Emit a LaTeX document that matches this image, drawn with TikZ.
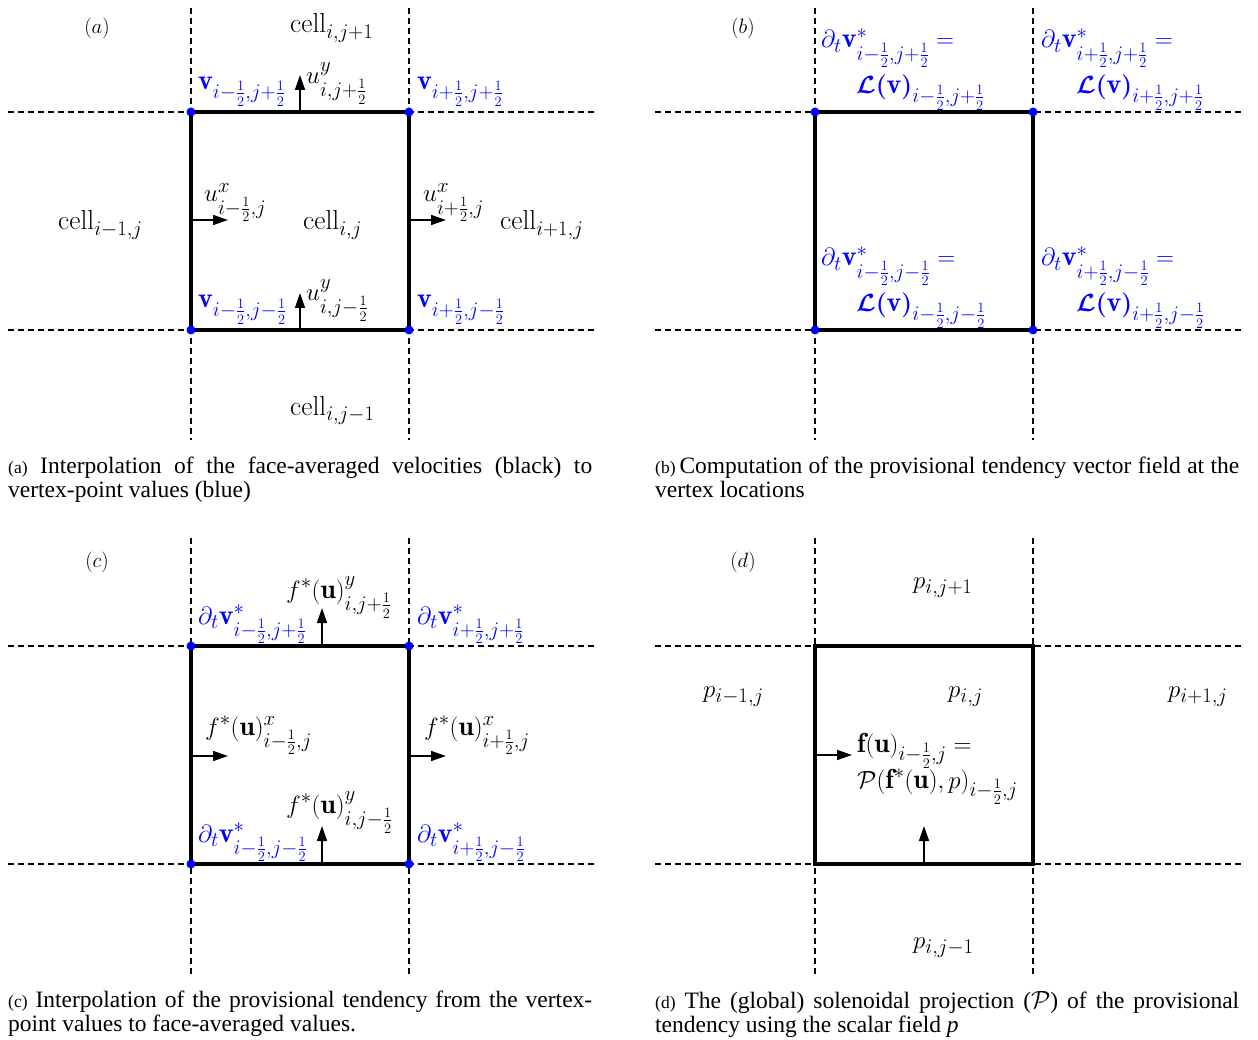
\documentclass[tikz,border=0pt]{standalone}
\usepackage{amsmath}
\usepackage{fontspec}
\newfontfamily\capfont{Liberation Serif}
\usetikzlibrary{arrows.meta}
\tikzset{
  gridline/.style={line width=1.3pt, dash pattern=on 6pt off 4pt},
  cellbox/.style={line width=3.5pt},
  vdot/.style={circle, fill=blue, inner sep=0pt, minimum size=9pt},
  flux/.style={line width=1.5pt, -{Triangle[length=15pt,width=10pt]}},
  lab/.style={font=\fontsize{27.5}{32}\selectfont, inner sep=0pt, anchor=base west},
  blab/.style={font=\fontsize{28}{32}\selectfont, inner sep=0pt, anchor=base west, text=blue},
  tag/.style={font=\fontsize{22}{26}\selectfont, inner sep=0pt},
  capt/.style={font=\capfont\fontsize{23.5}{24}\selectfont, inner sep=0pt, anchor=north west, text width=584pt, align=justify},
}
\newcommand{\hf}{\frac{1}{2}}
\newcommand{\capsmall}{\fontsize{17.5}{20}\selectfont}
\begin{document}
\begin{tikzpicture}[x=1pt, y=-1pt]
\useasboundingbox (0,0) rectangle (1258,1040);

% ---------------- panel (a)
\coordinate (aH1w) at (8,112);  \coordinate (aH1e) at (595,112);
\coordinate (aH2w) at (8,330);  \coordinate (aH2e) at (595,330);
\coordinate (aV1n) at (191,8);  \coordinate (aV1s) at (191,440);
\coordinate (aV2n) at (409,8);  \coordinate (aV2s) at (409,440);
\draw[gridline] (aH1w) -- (aH1e); \draw[gridline] (aH2w) -- (aH2e);
\draw[gridline] (aV1n) -- (aV1s); \draw[gridline] (aV2n) -- (aV2s);
\coordinate (aTL) at (191,112); \coordinate (aTR) at (409,112);
\coordinate (aBL) at (191,330); \coordinate (aBR) at (409,330);
\draw[cellbox] (aTL) -- (aTR) -- (aBR) -- (aBL) -- cycle;
\node[vdot] (aTLd) at (aTL) {}; \node[vdot] (aTRd) at (aTR) {};
\node[vdot] (aBLd) at (aBL) {}; \node[vdot] (aBRd) at (aBR) {};
\coordinate (aN0) at (300,112); \coordinate (aN1) at (300,75);
\coordinate (aS0) at (300,330); \coordinate (aS1) at (300,293);
\coordinate (aW0) at (191,220); \coordinate (aW1) at (228,220);
\coordinate (aE0) at (409,220); \coordinate (aE1) at (446,220);
\draw[flux] (aN0) -- (aN1); \draw[flux] (aS0) -- (aS1);
\draw[flux] (aW0) -- (aW1); \draw[flux] (aE0) -- (aE1);
\node[tag] (atag) at (97,28) {$(a)$};
\node[lab] (ac1) at (290,33) {$\mathrm{cell}_{i,j+1}$};
\node[lab] (ac2) at (58,230) {$\mathrm{cell}_{i-1,j}$};
\node[lab] (ac3) at (303,230) {$\mathrm{cell}_{i,j}$};
\node[lab] (ac4) at (500,230) {$\mathrm{cell}_{i+1,j}$};
\node[lab] (ac5) at (290,415) {$\mathrm{cell}_{i,j-1}$};
\node[lab] (au1) at (306,84) {$u^{y}_{i,j+\hf}$};
\node[lab] (au2) at (204,202) {$u^{x}_{i-\hf,j}$};
\node[lab] (au3) at (423,202) {$u^{x}_{i+\hf,j}$};
\node[lab] (au4) at (306,301) {$u^{y}_{i,j-\hf}$};
\node[blab] (av1) at (198,90) {$\mathbf{v}_{i-\hf,j+\hf}$};
\node[blab] (av2) at (417,90) {$\mathbf{v}_{i+\hf,j+\hf}$};
\node[blab] (av3) at (198,308) {$\mathbf{v}_{i-\hf,j-\hf}$};
\node[blab] (av4) at (417,308) {$\mathbf{v}_{i+\hf,j-\hf}$};

% ---------------- panel (b)
\coordinate (bH1w) at (655,112);  \coordinate (bH1e) at (1242,112);
\coordinate (bH2w) at (655,330);  \coordinate (bH2e) at (1242,330);
\coordinate (bV1n) at (815,8);  \coordinate (bV1s) at (815,440);
\coordinate (bV2n) at (1033,8);  \coordinate (bV2s) at (1033,440);
\draw[gridline] (bH1w) -- (bH1e); \draw[gridline] (bH2w) -- (bH2e);
\draw[gridline] (bV1n) -- (bV1s); \draw[gridline] (bV2n) -- (bV2s);
\coordinate (bTL) at (815,112); \coordinate (bTR) at (1033,112);
\coordinate (bBL) at (815,330); \coordinate (bBR) at (1033,330);
\draw[cellbox] (bTL) -- (bTR) -- (bBR) -- (bBL) -- cycle;
\node[vdot] (bTLd) at (bTL) {}; \node[vdot] (bTRd) at (bTR) {};
\node[vdot] (bBLd) at (bBL) {}; \node[vdot] (bBRd) at (bBR) {};
\node[tag] (btag) at (743,28) {$(b)$};
\node[blab] (bl1) at (821,48) {$\partial_t\mathbf{v}^{*}_{i-\hf,j+\hf} =$};
\node[blab] (bl2) at (856,94) {$\boldsymbol{\mathcal{L}}\boldsymbol{(}\mathbf{v}\boldsymbol{)}_{i-\hf,j+\hf}$};
\node[blab] (bl3) at (1041,48) {$\partial_t\mathbf{v}^{*}_{i+\hf,j+\hf} =$};
\node[blab] (bl4) at (1076,94) {$\boldsymbol{\mathcal{L}}\boldsymbol{(}\mathbf{v}\boldsymbol{)}_{i+\hf,j+\hf}$};
\node[blab] (bl5) at (821,266) {$\partial_t\mathbf{v}^{*}_{i-\hf,j-\hf} =$};
\node[blab] (bl6) at (856,312) {$\boldsymbol{\mathcal{L}}\boldsymbol{(}\mathbf{v}\boldsymbol{)}_{i-\hf,j-\hf}$};
\node[blab] (bl7) at (1041,266) {$\partial_t\mathbf{v}^{*}_{i+\hf,j-\hf} =$};
\node[blab] (bl8) at (1076,312) {$\boldsymbol{\mathcal{L}}\boldsymbol{(}\mathbf{v}\boldsymbol{)}_{i+\hf,j-\hf}$};

% ---------------- panel (c)
\coordinate (cH1w) at (8,646);  \coordinate (cH1e) at (595,646);
\coordinate (cH2w) at (8,864);  \coordinate (cH2e) at (595,864);
\coordinate (cV1n) at (191,538);  \coordinate (cV1s) at (191,975);
\coordinate (cV2n) at (409,538);  \coordinate (cV2s) at (409,975);
\draw[gridline] (cH1w) -- (cH1e); \draw[gridline] (cH2w) -- (cH2e);
\draw[gridline] (cV1n) -- (cV1s); \draw[gridline] (cV2n) -- (cV2s);
\coordinate (cTL) at (191,646); \coordinate (cTR) at (409,646);
\coordinate (cBL) at (191,864); \coordinate (cBR) at (409,864);
\draw[cellbox] (cTL) -- (cTR) -- (cBR) -- (cBL) -- cycle;
\node[vdot] (cTLd) at (cTL) {}; \node[vdot] (cTRd) at (cTR) {};
\node[vdot] (cBLd) at (cBL) {}; \node[vdot] (cBRd) at (cBR) {};
\coordinate (cN0) at (322,646); \coordinate (cN1) at (322,608);
\coordinate (cS0) at (322,864); \coordinate (cS1) at (322,826);
\coordinate (cW0) at (191,756); \coordinate (cW1) at (228,756);
\coordinate (cE0) at (409,756); \coordinate (cE1) at (446,756);
\draw[flux] (cN0) -- (cN1); \draw[flux] (cS0) -- (cS1);
\draw[flux] (cW0) -- (cW1); \draw[flux] (cE0) -- (cE1);
\node[tag] (ctag) at (97,562) {$(c)$};
\node[lab] (cf1) at (286,598) {$f^{*}(\mathbf{u})^{y}_{i,j+\hf}$};
\node[lab] (cf2) at (205,735) {$f^{*}(\mathbf{u})^{x}_{i-\hf,j}$};
\node[lab] (cf3) at (424,735) {$f^{*}(\mathbf{u})^{x}_{i+\hf,j}$};
\node[lab] (cf4) at (286,813) {$f^{*}(\mathbf{u})^{y}_{i,j-\hf}$};
\node[blab] (cv1) at (198,624) {$\partial_t\mathbf{v}^{*}_{i-\hf,j+\hf}$};
\node[blab] (cv2) at (417,624) {$\partial_t\mathbf{v}^{*}_{i+\hf,j+\hf}$};
\node[blab] (cv3) at (198,842) {$\partial_t\mathbf{v}^{*}_{i-\hf,j-\hf}$};
\node[blab] (cv4) at (417,842) {$\partial_t\mathbf{v}^{*}_{i+\hf,j-\hf}$};

% ---------------- panel (d)
\coordinate (dH1w) at (655,646);  \coordinate (dH1e) at (1242,646);
\coordinate (dH2w) at (655,864);  \coordinate (dH2e) at (1242,864);
\coordinate (dV1n) at (815,538);  \coordinate (dV1s) at (815,975);
\coordinate (dV2n) at (1033,538);  \coordinate (dV2s) at (1033,975);
\draw[gridline] (dH1w) -- (dH1e); \draw[gridline] (dH2w) -- (dH2e);
\draw[gridline] (dV1n) -- (dV1s); \draw[gridline] (dV2n) -- (dV2s);
\coordinate (dTL) at (815,646); \coordinate (dTR) at (1033,646);
\coordinate (dBL) at (815,864); \coordinate (dBR) at (1033,864);
\draw[cellbox] (dTL) -- (dTR) -- (dBR) -- (dBL) -- cycle;
\coordinate (dW0) at (815,755); \coordinate (dW1) at (852,755);
\coordinate (dS0) at (924,864); \coordinate (dS1) at (924,826);
\draw[flux] (dW0) -- (dW1); \draw[flux] (dS0) -- (dS1);
\node[tag] (dtag) at (743,562) {$(d)$};
\node[lab] (dp1) at (913,588) {$p_{i,j+1}$};
\node[lab] (dp2) at (703,697) {$p_{i-1,j}$};
\node[lab] (dp3) at (948,697) {$p_{i,j}$};
\node[lab] (dp4) at (1168,697) {$p_{i+1,j}$};
\node[lab] (dp5) at (913,948) {$p_{i,j-1}$};
\node[lab] (df1) at (857,752) {$\mathbf{f}(\mathbf{u})_{i-\hf,j} =$};
\node[lab] (df2) at (857,788) {$\mathcal{P}(\mathbf{f}^{*}(\mathbf{u}),p)_{i-\hf,j}$};

% ---------------- captions
\node[capt] (capa) at (8,457) {{\capsmall (a)} Interpolation of the face-averaged velocities (black) to\linebreak vertex-point values (blue)};
\node[capt] (capb) at (655,457) {{\capsmall (b)}\,Computation of the provisional tendency vector field at the\linebreak vertex locations};
\node[capt] (capc) at (8,991) {{\capsmall (c)} Interpolation of the provisional tendency from the vertex-\linebreak point values to face-averaged values.};
\node[capt] (capd) at (655,991) {{\capsmall (d)} The (global) solenoidal projection ($\mathcal{P}$) of the provisional\linebreak tendency using the scalar field \textit{p}};
\end{tikzpicture}
\end{document}
